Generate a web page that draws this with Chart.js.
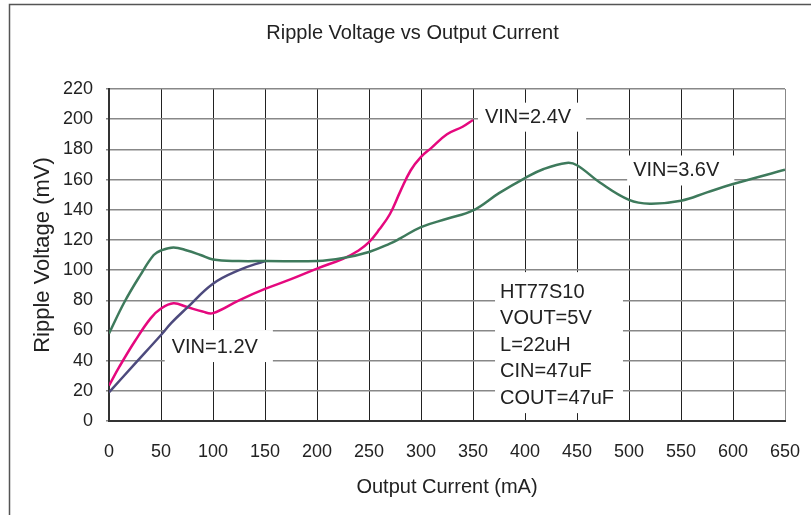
<!DOCTYPE html>
<html>
<head>
<meta charset="utf-8">
<script src="https://cdn.jsdelivr.net/npm/chart.js@4.4.1/dist/chart.umd.min.js"></script>
<style>
  html, body { margin: 0; padding: 0; background: #fff; }
  #wrap { width: 811px; height: 515px; }
</style>
</head>
<body>
<div id="wrap"><canvas id="rippleChart" width="811" height="515"></canvas></div>
<script>
// Output current (mA) and ripple voltage (mV)
const vin12Current = [0, 25, 50, 60, 75, 100, 125, 150];
const vin12Ripple = [19, 38, 57, 65, 75, 91, 100, 106];

const vin24Current = [0, 10, 25, 40, 50, 62, 75, 90, 100, 125, 150, 175, 200, 225, 240, 250, 260, 270, 280, 290, 300, 310, 325, 340, 350];
const vin24Ripple = [23.5, 36, 53, 68, 74.5, 78, 75.5, 72.5, 71.5, 80, 87.5, 94, 101, 107.5, 113, 118.5, 127, 137, 152, 166, 175, 181, 190, 195, 199.5];

const vin36Current = [0, 15, 30, 43, 50, 62, 75, 88, 100, 125, 150, 200, 225, 250, 270, 280, 300, 325, 350, 375, 400, 418, 440, 450, 472, 500, 520, 550, 575, 600, 650];
const vin36Ripple = [58, 79, 96.5, 110, 113, 115, 113, 110, 107, 106, 106, 106, 108, 112, 117.5, 121, 128.5, 134, 139.5, 151, 161, 167, 171, 169.5, 158, 146.5, 144, 146, 151.5, 157, 166.5];

const seriesLabels = ['VIN=1.2V', 'VIN=2.4V', 'VIN=3.6V'];
const conditionLines = ['HT77S10', 'VOUT=5V', 'L=22uH', 'CIN=47uF', 'COUT=47uF'];

const FONT = '"Liberation Sans", Arial, sans-serif';
const TEXT = '#222';

function pairs(xs, ys) {
    return xs.map((x, i) => ({ x: x, y: ys[i] }));
}

// frame line round the picture (only left and top edges are visible)
const framePlugin = {
    id: 'frame',
    beforeDraw(chart) {
        const c = chart.ctx;
        c.save();
        c.fillStyle = '#fff';
        c.fillRect(0, 0, chart.width, chart.height);
        c.strokeStyle = '#555';
        c.lineWidth = 1.5;
        c.beginPath();
        c.moveTo(9.5, chart.height);
        c.lineTo(9.5, 4.5);
        c.lineTo(chart.width, 4.5);
        c.stroke();
        c.restore();
    }
};

// text labels on white boxes that hide the grid behind them
const notesPlugin = {
    id: 'notes',
    beforeDatasetsDraw(chart, args, opts) {
        const c = chart.ctx;
        const xs = chart.scales.x, ys = chart.scales.y;
        c.save();
        c.font = '20px ' + FONT;
        c.textBaseline = 'middle';
        c.textAlign = 'left';
        opts.items.forEach(n => {
            const left = xs.getPixelForValue(n.x);
            const top = ys.getPixelForValue(n.y);
            const w = Math.max(...n.lines.map(t => c.measureText(t).width));
            const h = (n.lines.length - 1) * n.gap;
            c.fillStyle = '#fff';
            c.fillRect(left - n.pad[0], top - n.pad[2], w + n.pad[0] + n.pad[1], h + n.pad[2] + n.pad[3]);
            c.fillStyle = TEXT;
            n.lines.forEach((t, i) => c.fillText(t, left, top + i * n.gap));
        });
        c.restore();
    }
};

new Chart(document.getElementById('rippleChart'), {
    type: 'line',
    data: {
        datasets: [
            {
                label: seriesLabels[2],
                data: pairs(vin36Current, vin36Ripple),
                borderColor: '#3E7A5C',
            },
            {
                label: seriesLabels[0],
                data: pairs(vin12Current, vin12Ripple),
                borderColor: '#4D4A7D',
            },
            {
                label: seriesLabels[1],
                data: pairs(vin24Current, vin24Ripple),
                borderColor: '#E5087E',
            }
        ]
    },
    options: {
        responsive: false,
        animation: false,
        layout: { padding: { left: 40, right: 26, top: 0, bottom: 0 } },
        elements: {
            line: { borderWidth: 2.5, tension: 0.4, fill: false },
            point: { radius: 0 }
        },
        plugins: {
            legend: { display: false },
            tooltip: { enabled: false },
            title: {
                display: true,
                text: 'Ripple Voltage vs Output Current',
                color: TEXT,
                font: { family: FONT, size: 20, weight: 'normal' },
                padding: { top: 21, bottom: 44 }
            },
            notes: {
                items: [
                    { lines: [seriesLabels[1]], x: 361.5, y: 201, gap: 0, pad: [7, 15, 15, 14] },
                    { lines: [seriesLabels[2]], x: 504, y: 166, gap: 0, pad: [6, 15, 15, 15] },
                    { lines: [seriesLabels[0]], x: 60.3, y: 49, gap: 0, pad: [7, 15, 17, 15] },
                    { lines: conditionLines, x: 376, y: 85.4, gap: 26.5, pad: [5, 9, 20, 15] }
                ]
            }
        },
        scales: {
            x: {
                type: 'linear',
                min: 0,
                max: 650,
                afterFit(s) {
                    s.height = 94;
                    s.paddingLeft = 0;
                    s.paddingRight = 0;
                },
                ticks: {
                    stepSize: 50,
                    padding: 20,
                    color: TEXT,
                    font: { family: FONT, size: 18 }
                },
                grid: {
                    drawTicks: false,
                    color: ctx => (ctx.tick && ctx.tick.value === 650) ? '#888' : '#222',
                    lineWidth: 1
                },
                border: { color: '#333', width: 2 },
                title: {
                    display: true,
                    text: 'Output Current (mA)',
                    color: TEXT,
                    font: { family: FONT, size: 20 },
                    padding: { top: 0, bottom: 16 }
                }
            },
            y: {
                min: 0,
                max: 220,
                afterFit(s) { s.width = 69; },
                ticks: {
                    stepSize: 20,
                    padding: 13,
                    color: TEXT,
                    font: { family: FONT, size: 18 }
                },
                grid: {
                    color: '#888',
                    lineWidth: 1.5,
                    tickLength: 3
                },
                border: { color: '#333', width: 2 },
                title: {
                    display: true,
                    text: 'Ripple Voltage (mV)',
                    color: TEXT,
                    font: { family: FONT, size: 22 },
                    padding: { top: -10, bottom: 0 }
                }
            }
        }
    },
    plugins: [framePlugin, notesPlugin]
});
</script>
</body>
</html>
